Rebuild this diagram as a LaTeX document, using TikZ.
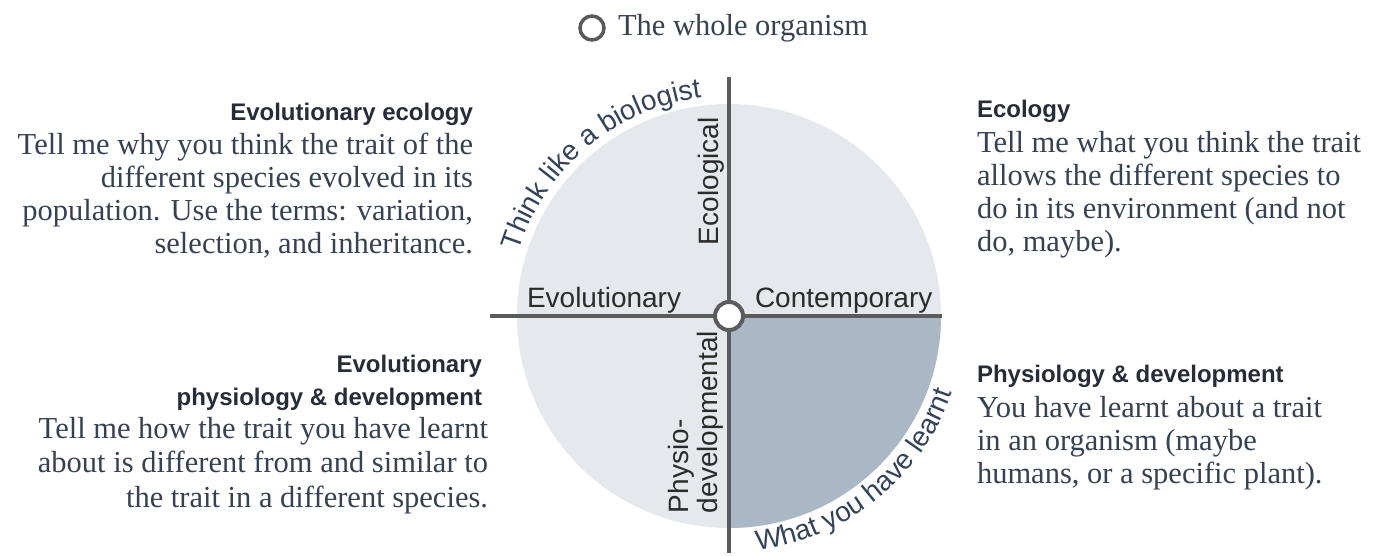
\documentclass[tikz,border=0pt]{standalone}
\usepackage{fontspec}
\usetikzlibrary{decorations.text}
\setmainfont{Liberation Serif}
\newfontfamily\labelfont{Liberation Sans}

\definecolor{axisgray}{HTML}{5B5B5B}
\definecolor{discfill}{HTML}{E5E8ED}
\definecolor{quadfill}{HTML}{AAB8C6}
\definecolor{bodytext}{HTML}{364152}
\definecolor{headtext}{HTML}{262D38}
\definecolor{labeltext}{HTML}{2B2B2B}
\definecolor{arctext}{HTML}{34425A}

\newcommand{\bodyfont}{\fontsize{30.5}{33}\selectfont\color{bodytext}}
\newcommand{\headfont}{\labelfont\bfseries\fontsize{24}{33}\selectfont\color{headtext}}
\newcommand{\axisfont}{\labelfont\fontsize{28}{30}\selectfont\color{labeltext}}

\begin{document}
\begin{tikzpicture}[x=1pt,y=1pt,
  txt/.style={inner sep=0pt, outer sep=0pt},
  axisline/.style={draw=axisgray, line width=4pt},
  axislabel/.style={txt, font=\axisfont},
  heading/.style={txt, font=\headfont},
  body/.style={txt, font=\bodyfont},
  arclabel/.style={decorate, decoration={text along path, text align=center,
      text={|\labelfont\fontsize{28}{30}\selectfont\color{arctext}|#1}}}
]
% canvas
\fill[white] (0,0) rectangle (1387,-555);
\useasboundingbox (0,0) rectangle (1387,-555);

\coordinate (c) at (729,-316);

% disc and the shaded quadrant
\fill[discfill] (c) circle[radius=212];
\fill[quadfill] (c) -- ++(0:212) arc[start angle=0, end angle=-90, radius=212] -- cycle;

% axes
\coordinate (top) at (729,-77);
\coordinate (bottom) at (729,-553);
\coordinate (left) at (490,-316);
\coordinate (right) at (942,-316);
\draw[axisline] (top) -- (bottom);
\draw[axisline] (left) -- (right);
\node[circle, fill=white, draw=axisgray, line width=4pt, minimum size=28pt, inner sep=0pt] (hub) at (c) {};

% axis labels
\node[axislabel, anchor=base west] (evo) at (527,-307) {Evolutionary};
\node[axislabel, anchor=base west] (con) at (755,-307) {Contemporary};
\node[axislabel, anchor=base west, rotate=90] (eco) at (718,-245) {Ecological};
\node[axislabel, anchor=base west, rotate=90] (phys) at (688,-513) {Physio-};
\node[axislabel, anchor=base west, rotate=90] (devel) at (717,-513) {developmental};

% curved labels
\path[arclabel={Think like a biologist}] (c) ++(165:220) arc[start angle=165, end angle=95, radius=220];
\path[arclabel={What you have learnt}] (c) ++(-86:236) arc[start angle=-86, end angle=-16, radius=236];

% legend
\node[circle, draw=axisgray, line width=3.5pt, minimum size=24pt, inner sep=0pt] (wholemark) at (592,-28) {};
\node[body, anchor=base west] (whole) at (618,-35) {The whole organism};

% top left
\node[heading, anchor=base east] (h1) at (473,-120) {Evolutionary ecology};
\node[body, anchor=base east] (b1) at (473,-154) {\begin{tabular}[t]{@{}r@{}}
Tell me why you think the trait of the\\
different species evolved in its\\
population. Use the terms: variation,\\
selection, and inheritance.
\end{tabular}};

% top right
\node[heading, anchor=base west] (h2) at (977,-117) {Ecology};
\node[body, anchor=base west] (b2) at (977,-152) {\begin{tabular}[t]{@{}l@{}}
Tell me what you think the trait\\
allows the different species to\\
do in its environment (and not\\
do, maybe).
\end{tabular}};

% bottom left
\node[heading, anchor=base east] (h3) at (482,-372) {\begin{tabular}[t]{@{}r@{}}
Evolutionary\\
physiology \& development
\end{tabular}};
\node[body, anchor=base east] (b3) at (488,-438) {\fontsize{30.5}{34.5}\selectfont\begin{tabular}[t]{@{}r@{}}
Tell me how the trait you have learnt\\
about is different from and similar to\\
the trait in a different species.
\end{tabular}};

% bottom right
\node[heading, anchor=base west] (h4) at (977,-382) {Physiology \& development};
\node[body, anchor=base west] (b4) at (977,-417) {\begin{tabular}[t]{@{}l@{}}
You have learnt about a trait\\
in an organism (maybe\\
humans, or a specific plant).
\end{tabular}};
\end{tikzpicture}
\end{document}
